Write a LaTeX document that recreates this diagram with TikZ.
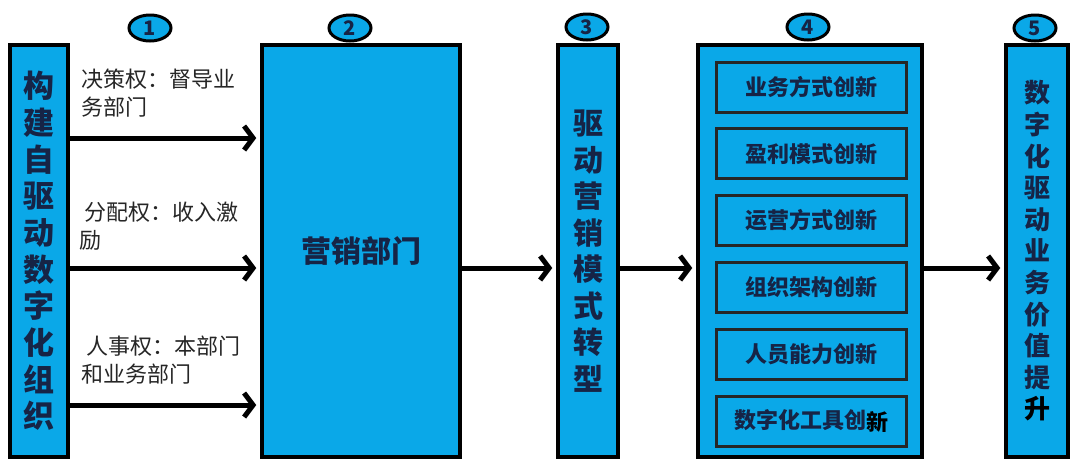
\documentclass[tikz,border=0pt]{standalone}
\usepackage{fontspec}
\setmainfont{Noto Sans CJK SC}
\usetikzlibrary{arrows.meta,positioning,shapes.geometric}

\definecolor{boxblue}{RGB}{10,168,232}
\definecolor{navy}{RGB}{22,36,70}

\tikzset{
  col/.style={draw=black, line width=3.5pt, fill=boxblue, minimum height=412pt,
    inner sep=0pt, text=navy, align=center},
  inbox/.style={draw=black!85, line width=3pt, fill=boxblue, minimum width=190pt,
    minimum height=50pt, font=\bfseries\fontsize{22}{26}\selectfont, text=navy},
  num/.style={ellipse, draw=black, line width=3pt, fill=boxblue, minimum width=42pt,
    minimum height=26pt, inner sep=0pt, font=\bfseries\fontsize{20}{22}\selectfont, text=navy},
  arr/.style={line width=5pt, -{Straight Barb[length=9pt,width=24pt]}, shorten >=4pt},
  side/.style={anchor=west, align=left, font=\fontsize{22}{28}\selectfont, text=black!85}
}

\begin{document}
\begin{tikzpicture}[x=1pt,y=-1pt]
  \useasboundingbox (0,0) rectangle (1076,472);

  % Columns
  \node[col, minimum width=58pt, font=\bfseries\fontsize{31}{36.7}\selectfont] (c1) at (39,251)
    {构\\建\\自\\驱\\动\\数\\字\\化\\组\\织};
  \node[col, minimum width=198pt, font=\bfseries\fontsize{30}{36}\selectfont] (c2) at (361,251) {营销部门};
  \node[col, minimum width=60pt, font=\bfseries\fontsize{30}{36.5}\selectfont] (c3) at (588,251)
    {驱\\动\\营\\销\\模\\式\\转\\型};
  \node[col, minimum width=224pt] (c4) at (810,251) {};
  \node[col, minimum width=62pt, font=\bfseries\fontsize{26}{31.6}\selectfont] (c5) at (1037,251)
    {数\\字\\化\\驱\\动\\业\\务\\价\\值\\提\\{\color{black}升}};

  % Step numbers
  \node[num] (n1) at (150,28) {1};
  \node[num] (n2) at (350,28) {2};
  \node[num] (n3) at (587,27) {3};
  \node[num] (n4) at (808,27) {4};
  \node[num] (n5) at (1035,28) {5};

  % Innovation boxes
  \node[inbox] (b1) at (811,87) {业务方式创新};
  \node[inbox, below=13.8pt of b1] (b2) {盈利模式创新};
  \node[inbox, below=13.8pt of b2] (b3) {运营方式创新};
  \node[inbox, below=13.8pt of b3] (b4) {组织架构创新};
  \node[inbox, below=13.8pt of b4] (b5) {人员能力创新};
  \node[inbox, below=13.8pt of b5] (b6) {数字化工具创\raisebox{-2pt}{\color{black}新}};

  % Rights
  \node[side] (t1) at (78,93) {决策权：督导业\\务部门};
  \node[side] (t2) at (76,226) {\ 分配权：收入激\\励};
  \node[side] (t3) at (78,360) {\ 人事权：本部门\\和业务部门};

  % Arrows
  \draw[arr] ([yshift=113pt]c1.east) -- ([yshift=113pt]c2.west);
  \draw[arr] ([yshift=-17pt]c1.east) -- ([yshift=-17pt]c2.west);
  \draw[arr] ([yshift=-154pt]c1.east) -- ([yshift=-154pt]c2.west);
  \draw[arr] ([yshift=-17pt]c2.east) -- ([yshift=-17pt]c3.west);
  \draw[arr] ([yshift=-17pt]c3.east) -- ([yshift=-17pt]c4.west);
  \draw[arr] ([yshift=-17pt]c4.east) -- ([yshift=-17pt]c5.west);
\end{tikzpicture}
\end{document}
